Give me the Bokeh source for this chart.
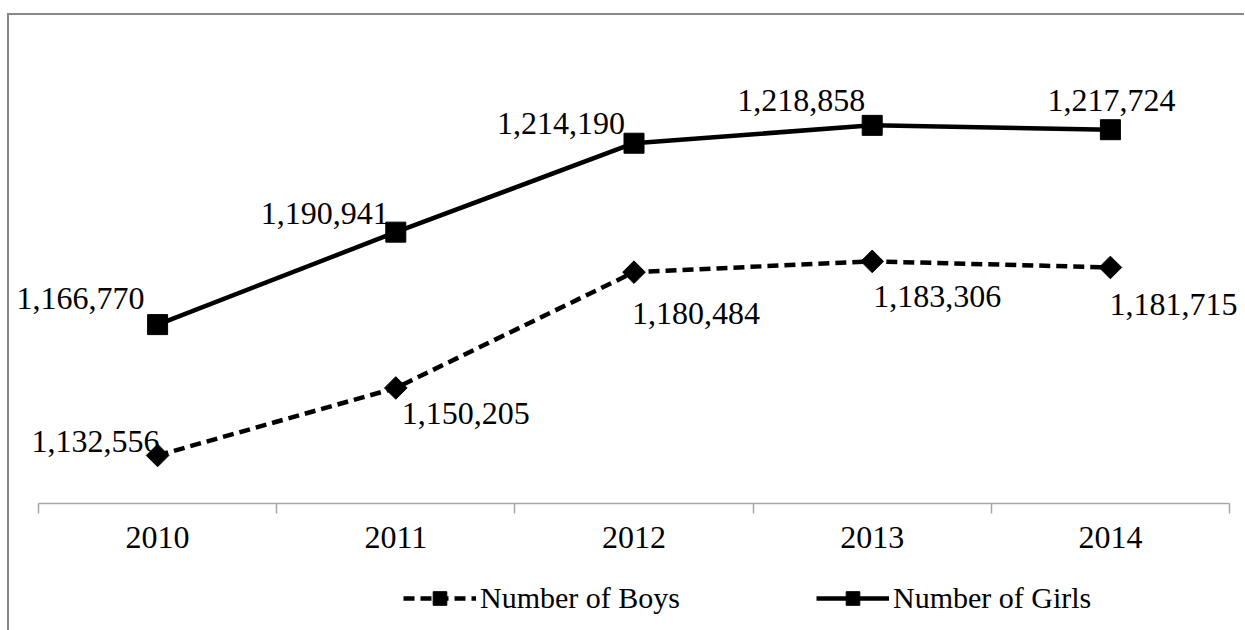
import math
from bokeh.plotting import figure
from bokeh.models import Range1d, FixedTicker, ColumnDataSource, Legend, LegendItem
from bokeh.core.properties import value
from bokeh.embed import file_html
from bokeh.resources import INLINE

# ---- data ----
years = [2010, 2011, 2012, 2013, 2014]
boys = [1132556, 1150205, 1180484, 1183306, 1181715]
girls = [1166770, 1190941, 1214190, 1218858, 1217724]
series_names = ["Number of Boys", "Number of Girls"]
y_min, y_max = 1120000, 1240000

# ---- label placement (style, screen px) ----
girls_dx = [-77, -71, -73, -71, 1]
girls_dy = [-26, -19, -20, -25, -29]
boys_dx = [-62, 70, 62, 65, 63]
boys_dy = [-14, 26, 41, 35, 37]

# ---- layout (screen px) ----
W, H = 1245, 630
AX_L, AX_R = 38, 1229     # horizontal extent of the category axis
AX_TOP, AX_BOT = 44, 503  # vertical extent of the value scale

FONT = "Liberation Serif"
xpos = list(range(1, len(years) + 1))
x0, x1 = 0.5, len(years) + 0.5
xs = (x1 - x0) / (AX_R - AX_L)
ys = (y_max - y_min) / (AX_BOT - AX_TOP)

p = figure(width=W, height=H, output_backend="svg", toolbar_location=None,
           title=None,
           x_range=Range1d(x0 - AX_L * xs, x1 + (W - AX_R) * xs),
           y_range=Range1d(y_min - (H - AX_BOT) * ys, y_max + AX_TOP * ys),
           y_axis_location=None,
           min_border_left=0, min_border_right=0, min_border_top=0, min_border_bottom=0)
p.styles = {
    "background-image": "linear-gradient(#888888, #888888), linear-gradient(#888888, #888888)",
    "background-position": "7px 13px, 7px 13px",
    "background-size": "2px calc(100% - 13px), calc(100% - 7px) 2px",
    "background-repeat": "no-repeat, no-repeat",
    "clip-path": "inset(0px 1px 0px 0px)",
}
p.border_fill_color = None
p.background_fill_color = None
p.outline_line_color = None
p.grid.visible = False

ax = p.xaxis[0]
ax.fixed_location = y_min
ax.bounds = (x0, x1)
ax.ticker = FixedTicker(ticks=xpos, minor_ticks=[x - 0.5 for x in xpos] + [xpos[-1] + 0.5])
ax.major_label_overrides = {x: str(y) for x, y in zip(xpos, years)}
ax.axis_line_color = "#A6A6A6"
ax.axis_line_width = 1.5
ax.major_tick_out = 0
ax.major_tick_in = 0
ax.minor_tick_out = 10
ax.minor_tick_in = 0
ax.minor_tick_line_color = "#A6A6A6"
ax.minor_tick_line_width = 1.5
ax.major_label_standoff = 13
ax.major_label_text_font = FONT
ax.major_label_text_font_size = "32px"
ax.major_label_text_color = "#000000"

src_b = ColumnDataSource(dict(x=xpos, y=boys, t=[f"{v:,}" for v in boys], dx=boys_dx, dy=boys_dy))
src_g = ColumnDataSource(dict(x=xpos, y=girls, t=[f"{v:,}" for v in girls], dx=girls_dx, dy=girls_dy))

lb = p.line("x", "y", source=src_b, line_color="black", line_width=4.5, line_dash="11 6")
mb = p.scatter("x", "y", source=src_b, marker="square", angle=math.pi / 4, size=16,
               fill_color="black", line_color="black")
lg = p.line("x", "y", source=src_g, line_color="black", line_width=4.5)
mg = p.scatter("x", "y", source=src_g, marker="square", size=20,
               fill_color="black", line_color="black")

for src in (src_b, src_g):
    p.text("x", "y", text="t", source=src, x_offset="dx", y_offset="dy",
           text_align="center", text_baseline="middle",
           text_font=value(FONT), text_font_size="32px", text_color="black")

legend = Legend(items=[LegendItem(label=series_names[0], renderers=[lb, mb]),
                       LegendItem(label=series_names[1], renderers=[lg, mg])],
                orientation="horizontal", location=(403, 15),
                padding=0, margin=0, spacing=136, glyph_width=73, glyph_height=34,
                label_standoff=4, label_text_font=FONT, label_text_font_size="30px",
                label_text_color="black",
                border_line_color=None, background_fill_alpha=0)
p.add_layout(legend, "center")

open("out.html", "w").write(file_html(p, INLINE))
